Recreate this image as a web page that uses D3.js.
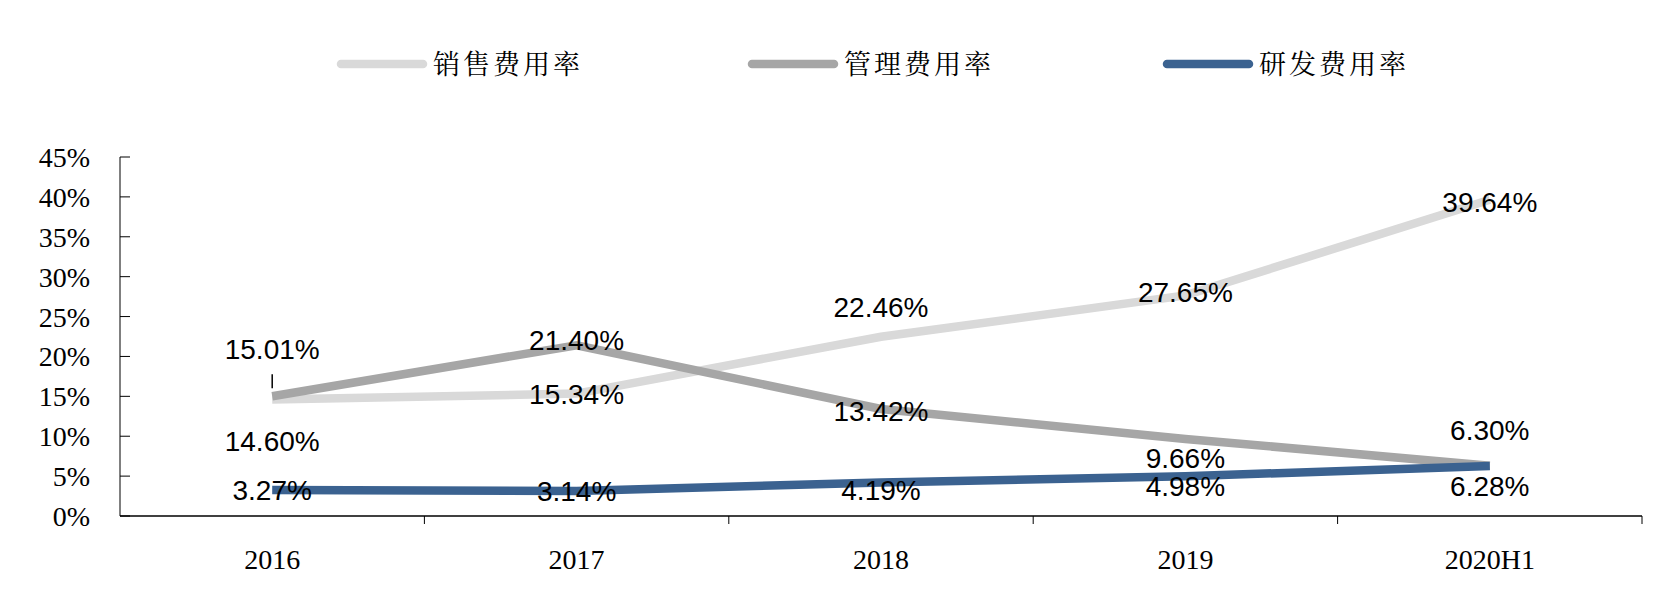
<!DOCTYPE html>
<html><head><meta charset="utf-8">
<script src="https://cdn.jsdelivr.net/npm/d3@7"></script>
<style>body{margin:0;background:#fff}</style>
</head><body><svg width="1664" height="614"></svg>
<script>
var years = ["2016", "2017", "2018", "2019", "2020H1"];
var sales = [14.60, 15.34, 22.46, 27.65, 39.64];
var mgmt = [15.01, 21.40, 13.42, 9.66, 6.30];
var rnd = [3.27, 3.14, 4.19, 4.98, 6.28];
var yTicks = [0, 5, 10, 15, 20, 25, 30, 35, 40, 45];

// label vertical offsets (pixels, relative to the point)
var series = [
  {name: "销售费用率", values: sales, color: "#d9d9d9", dy: [41, 0, -30, -3, 2]},
  {name: "管理费用率", values: mgmt, color: "#a6a6a6", dy: [-47, -5, 2, 19, -36]},
  {name: "研发费用率", values: rnd, color: "#3b6290", dy: [0, 0, 7, 10, 20]}
];

var svg = d3.select("svg");
var x = d3.scaleBand().domain(years).range([120, 1642]);
var y = d3.scaleLinear().domain([0, 45]).range([516, 157]);

var g = svg.append("g");
g.append("line").attr("x1", 120).attr("x2", 120).attr("y1", 157).attr("y2", 516).attr("stroke", "#000");
g.append("line").attr("x1", 120).attr("x2", 1642).attr("y1", 516).attr("y2", 516).attr("stroke", "#000").attr("stroke-width", 1.5);
yTicks.forEach(function(t) {
  g.append("line").attr("x1", 120).attr("x2", 130).attr("y1", y(t)).attr("y2", y(t)).attr("stroke", "#000");
  g.append("text").attr("x", 90).attr("y", y(t) + 10).attr("text-anchor", "end")
    .style("font", "28px 'Liberation Serif'").text(t + "%");
});
years.forEach(function(c, i) {
  var bx = x(c) + x.bandwidth();
  g.append("line").attr("x1", bx).attr("x2", bx).attr("y1", 516).attr("y2", 524).attr("stroke", "#000");
  g.append("text").attr("x", x(c) + x.bandwidth() / 2).attr("y", 569).attr("text-anchor", "middle")
    .style("font", "28px 'Liberation Serif'").text(c);
});

var line = d3.line().x(function(d, i) { return x(years[i]) + x.bandwidth() / 2; }).y(function(d) { return y(d); });

series.forEach(function(s) {
  svg.append("path").attr("d", line(s.values)).attr("fill", "none")
    .attr("stroke", s.color).attr("stroke-width", 8.5);
});
// small leader line for 15.01%
svg.append("line").attr("x1", x("2016") + x.bandwidth() / 2).attr("x2", x("2016") + x.bandwidth() / 2)
  .attr("y1", y(15.01) - 22).attr("y2", y(15.01) - 8).attr("stroke", "#000").attr("stroke-width", 1.5);

series.forEach(function(s) {
  s.values.forEach(function(v, i) {
    svg.append("text").attr("x", x(years[i]) + x.bandwidth() / 2).attr("y", y(v) + s.dy[i] + 10)
      .attr("text-anchor", "middle").style("font", "28px 'Liberation Sans'")
      .text(v.toFixed(2) + "%");
  });
});

var legX = [341, 752, 1167];
series.forEach(function(s, i) {
  svg.append("line").attr("x1", legX[i]).attr("x2", legX[i] + 82).attr("y1", 64).attr("y2", 64)
    .attr("stroke", s.color).attr("stroke-width", 8.5).attr("stroke-linecap", "round");
  svg.append("text").attr("x", legX[i] + 92).attr("y", 74)
    .style("font", "27px 'Noto Serif CJK SC', 'Noto Sans CJK SC'").style("letter-spacing", "3px").text(s.name);
});
</script></body></html>
